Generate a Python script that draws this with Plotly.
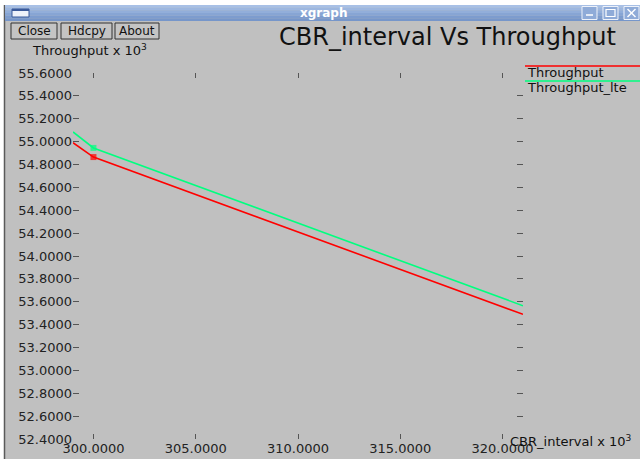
import plotly.graph_objects as go

# ---- data ----
cbr_interval = [299.0, 300.0, 321.0]
throughput = [54.99, 54.865, 53.49]
throughput_lte = [55.085, 54.945, 53.565]
marker_sizes = [0, 6, 0]
series_names = ["Throughput", "Throughput_lte"]
series_colors = ["#ff0000", "#00ff7f"]

W_TOTAL, H_TOTAL = 640, 459
L, R, T, B = 73, 117, 73, 20
PW = W_TOTAL - L - R
PH = H_TOTAL - T - B
FONT = "DejaVu Sans"


def xp(px):
    return (px - L) / PW


def yp(py):
    return (H_TOTAL - B - py) / PH


fig = go.Figure()
for name, ys, col in zip(series_names, [throughput, throughput_lte], series_colors):
    fig.add_trace(go.Scatter(
        x=cbr_interval, y=ys, mode="lines+markers", name=name,
        line=dict(color=col, width=1.6),
        marker=dict(symbol="square", size=marker_sizes, color=col, line=dict(width=0)),
        showlegend=False, cliponaxis=False,
    ))

shapes = []
annotations = []


def text(t, x, y, size=13, color="#111111", xanchor="center", family=FONT):
    annotations.append(dict(text=t, x=xp(x), y=yp(y), xref="paper", yref="paper", showarrow=False,
                            xanchor=xanchor, yanchor="middle", font=dict(family=family, size=size, color=color)))


# window chrome
shapes.append(dict(type="rect", xref="paper", yref="paper", x0=xp(0), x1=xp(640), y0=yp(0), y1=yp(5),
                   fillcolor="white", line=dict(width=0), layer="below"))
shapes.append(dict(type="rect", xref="paper", yref="paper", x0=xp(0), x1=xp(4), y0=yp(0), y1=yp(459),
                   fillcolor="white", line=dict(width=0), layer="below"))
shapes.append(dict(type="line", xref="paper", yref="paper", x0=xp(4.5), x1=xp(4.5), y0=yp(5), y1=yp(459),
                   line=dict(color="#5a5a5a", width=1.5)))
bar_cols = ["#a8c0e6", "#9db7e0", "#92aeda", "#87a5d4", "#7d9cce", "#7696ca"]
for i, c in enumerate(bar_cols):
    y0 = 5 + i * 16 / len(bar_cols)
    y1 = 5 + (i + 1) * 16 / len(bar_cols)
    shapes.append(dict(type="rect", xref="paper", yref="paper", x0=xp(5), x1=xp(640), y0=yp(y0), y1=yp(y1),
                       fillcolor=c, line=dict(width=0)))
shapes.append(dict(type="rect", xref="paper", yref="paper", x0=xp(12), x1=xp(29), y0=yp(9), y1=yp(17),
                   fillcolor="#eef2fa", line=dict(color="#3b5a9a", width=1)))
shapes.append(dict(type="rect", xref="paper", yref="paper", x0=xp(12), x1=xp(29), y0=yp(9), y1=yp(11),
                   fillcolor="#3b5a9a", line=dict(width=0)))
for bx0 in [582, 603, 624]:
    shapes.append(dict(type="rect", xref="paper", yref="paper", x0=xp(bx0), x1=xp(bx0 + 15), y0=yp(6.5), y1=yp(19.5),
                       fillcolor="#8fabd8", line=dict(color="#eef2fa", width=1)))
shapes.append(dict(type="line", xref="paper", yref="paper", x0=xp(586), x1=xp(593), y0=yp(15), y1=yp(15),
                   line=dict(color="white", width=1.5)))
shapes.append(dict(type="rect", xref="paper", yref="paper", x0=xp(606), x1=xp(615), y0=yp(9.5), y1=yp(16.5),
                   fillcolor="rgba(0,0,0,0)", line=dict(color="white", width=1.2)))
shapes.append(dict(type="line", xref="paper", yref="paper", x0=xp(627.5), x1=xp(635.5), y0=yp(9), y1=yp(17),
                   line=dict(color="white", width=1.5)))
shapes.append(dict(type="line", xref="paper", yref="paper", x0=xp(627.5), x1=xp(635.5), y0=yp(17), y1=yp(9),
                   line=dict(color="white", width=1.5)))
text("<b>xgraph</b>", 323, 13, size=12, color="white")

# buttons
for label, bx0, bx1 in [("Close", 11, 57), ("Hdcpy", 61, 112), ("About", 115, 159)]:
    shapes.append(dict(type="rect", xref="paper", yref="paper", x0=xp(bx0), x1=xp(bx1), y0=yp(23), y1=yp(39),
                       fillcolor="#c4c4c4", line=dict(color="#333333", width=1)))
    text(label, (bx0 + bx1) / 2, 31, size=12)

# titles
text("CBR_interval Vs Throughput", 447, 37, size=24)
text("Throughput x 10<sup>3</sup>", 30, 50, size=13, xanchor="left")
text("CBR_interval x 10<sup>3</sup>", 508, 441, size=13, xanchor="left")

# legend (xgraph style: coloured line above the name)
for name, col, ly in zip(series_names, series_colors, [66, 81]):
    shapes.append(dict(type="line", xref="paper", yref="paper", x0=xp(525), x1=xp(640), y0=yp(ly), y1=yp(ly),
                       line=dict(color=col, width=1.5)))
    text(name, 525, ly + 6.5, size=13, xanchor="left")

fig.update_layout(
    width=W_TOTAL, height=H_TOTAL, autosize=False,
    margin=dict(l=L, r=R, t=T, b=B, pad=0, autoexpand=False),
    paper_bgcolor="#c0c0c0", plot_bgcolor="#c0c0c0",
    shapes=shapes, annotations=annotations, showlegend=False,
    xaxis=dict(range=[299, 321], tickmode="linear", tick0=300, dtick=5, tickformat=".4f",
               ticks="inside", ticklen=5, tickcolor="#555555", mirror="ticks", showline=False,
               showgrid=False, zeroline=False, automargin=False,
               tickfont=dict(family=FONT, size=13, color="#222222")),
    yaxis=dict(range=[52.4, 55.6], tickmode="linear", tick0=52.4, dtick=0.2, tickformat=".4f",
               ticks="inside", ticklen=6, tickcolor="#555555", mirror="ticks", showline=False,
               showgrid=False, zeroline=False, automargin=False,
               tickfont=dict(family=FONT, size=13, color="#222222")),
)

fig.write_html("out.html", config={"displayModeBar": False},
               post_script="document.body.style.margin='0';document.body.style.overflow='hidden';")
